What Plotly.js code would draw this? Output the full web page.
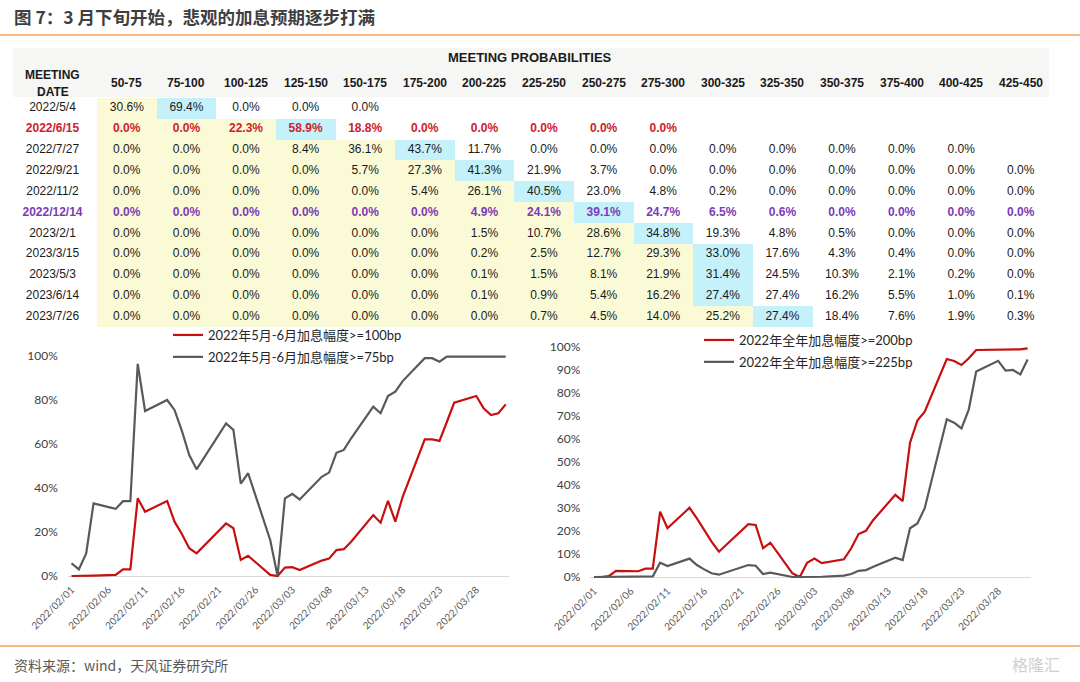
<!DOCTYPE html>
<html><head><meta charset="utf-8">
<script src="https://cdn.plot.ly/plotly-3.0.1.min.js"></script>
<style>html,body{margin:0;padding:0;background:#fff}#chart{width:1080px;height:682px}</style>
</head><body><div id="chart"></div>
<script>
// ---------- table data ----------
const meetingDates = ["2022/5/4","2022/6/15","2022/7/27","2022/9/21","2022/11/2","2022/12/14","2023/2/1","2023/3/15","2023/5/3","2023/6/14","2023/7/26"];
const rateRanges = ["50-75","75-100","100-125","125-150","150-175","175-200","200-225","225-250","250-275","275-300","300-325","325-350","350-375","375-400","400-425","425-450"];
const prob_2022_05_04 = [30.6,69.4,0.0,0.0,0.0];
const prob_2022_06_15 = [0.0,0.0,22.3,58.9,18.8,0.0,0.0,0.0,0.0,0.0];
const prob_2022_07_27 = [0.0,0.0,0.0,8.4,36.1,43.7,11.7,0.0,0.0,0.0,0.0,0.0,0.0,0.0,0.0];
const prob_2022_09_21 = [0.0,0.0,0.0,0.0,5.7,27.3,41.3,21.9,3.7,0.0,0.0,0.0,0.0,0.0,0.0,0.0];
const prob_2022_11_02 = [0.0,0.0,0.0,0.0,0.0,5.4,26.1,40.5,23.0,4.8,0.2,0.0,0.0,0.0,0.0,0.0];
const prob_2022_12_14 = [0.0,0.0,0.0,0.0,0.0,0.0,4.9,24.1,39.1,24.7,6.5,0.6,0.0,0.0,0.0,0.0];
const prob_2023_02_01 = [0.0,0.0,0.0,0.0,0.0,0.0,1.5,10.7,28.6,34.8,19.3,4.8,0.5,0.0,0.0,0.0];
const prob_2023_03_15 = [0.0,0.0,0.0,0.0,0.0,0.0,0.2,2.5,12.7,29.3,33.0,17.6,4.3,0.4,0.0,0.0];
const prob_2023_05_03 = [0.0,0.0,0.0,0.0,0.0,0.0,0.1,1.5,8.1,21.9,31.4,24.5,10.3,2.1,0.2,0.0];
const prob_2023_06_14 = [0.0,0.0,0.0,0.0,0.0,0.0,0.1,0.9,5.4,16.2,27.4,27.4,16.2,5.5,1.0,0.1];
const prob_2023_07_26 = [0.0,0.0,0.0,0.0,0.0,0.0,0.0,0.7,4.5,14.0,25.2,27.4,18.4,7.6,1.9,0.3];
const probabilityRows = [prob_2022_05_04,prob_2022_06_15,prob_2022_07_27,prob_2022_09_21,prob_2022_11_02,prob_2022_12_14,prob_2023_02_01,prob_2023_03_15,prob_2023_05_03,prob_2023_06_14,prob_2023_07_26];
const highlightedMeetings = {"2022/6/15":"#D0202E","2022/12/14":"#7B3DB4"};

// ---------- line chart data (%) ----------
const tradeDates = ["2022-02-01","2022-02-02","2022-02-03","2022-02-04","2022-02-07","2022-02-08","2022-02-09","2022-02-10","2022-02-11","2022-02-14","2022-02-15","2022-02-16","2022-02-17","2022-02-18","2022-02-22","2022-02-23","2022-02-24","2022-02-25","2022-02-28","2022-03-01","2022-03-02","2022-03-03","2022-03-04","2022-03-07","2022-03-08","2022-03-09","2022-03-10","2022-03-11","2022-03-14","2022-03-15","2022-03-16","2022-03-17","2022-03-18","2022-03-21","2022-03-22","2022-03-23","2022-03-24","2022-03-25","2022-03-28","2022-03-29","2022-03-30","2022-03-31","2022-04-01"];
const mayJunHike100bp = [0,0,0.1,0.2,0.5,3.0,3.0,35.3,29.2,34.1,24.7,19.1,12.6,10.3,23.9,21.7,7.3,9.2,0.5,0,3.8,4.0,2.7,7.0,7.9,11.8,12.2,15.6,27.7,24.2,34.2,24.7,36.0,62.1,62.1,61.4,70.0,78.8,81.8,76.2,73.2,74.0,78.0];
const mayJunHike75bp = [5.8,3.0,10.3,33.0,30.5,34.0,34.0,96.4,75.0,80.0,75.5,66.0,55.0,48.5,69.4,66.4,42.0,46.7,16.4,0,35.3,37.3,34.8,45.1,47.0,56.0,57.3,62.6,77.0,74.0,81.8,83.8,88.6,99.0,99.0,97.4,99.7,99.7,99.7,99.7,99.7,99.7,99.7];
const fullYearHike200bp = [0,0,0.4,2.7,2.5,3.6,3.6,28.4,21.2,30.1,25.5,20.4,15.4,11.0,23.0,22.6,12.5,14.9,1.6,0,6.2,8.0,6.0,7.7,12.5,18.7,20.1,24.8,35.7,33.0,58.4,68.0,71.9,94.8,93.9,92.2,95.1,98.7,98.7,99.0,98.8,99.0,99.4];
const fullYearHike225bp = [0,0,0,0,0,0.1,0.3,6.2,4.8,8.0,5.2,3.3,1.6,1.0,5.2,4.9,1.3,1.9,0,0,0,0.3,0.1,0.6,1.3,2.7,3.0,4.5,8.4,7.4,21.2,23.3,29.9,68.6,67.1,64.6,72.9,89.3,94.0,89.7,90.0,88.1,94.6];
const xTickLabels = ["2022/02/01","2022/02/06","2022/02/11","2022/02/16","2022/02/21","2022/02/26","2022/03/03","2022/03/08","2022/03/13","2022/03/18","2022/03/23","2022/03/28"];
const leftYTicks = [0,20,40,60,80,100];
const rightYTicks = [0,10,20,30,40,50,60,70,80,90,100];
const seriesNames = ["2022年5月-6月加息幅度>=100bp","2022年5月-6月加息幅度>=75bp","2022年全年加息幅度>=200bp","2022年全年加息幅度>=225bp"];

// ---------- helpers ----------
const W = 1080, H = 682;
const px = x => x / W, py = y => 1 - y / H;
const RED = '#C80F0F', GREY = '#595959';
const YELLOW = '#FBFAD6', CYAN = '#C4F1FA', WHITE = '#FFFFFF', TXT = '#1A1A1A';
const TABLE_FONT = '"Liberation Sans", Arial, sans-serif';
const CHART_FONT = 'Lato, "Noto Sans CJK SC", sans-serif';

// ---------- table geometry ----------
const nR = meetingDates.length, nC = rateRanges.length;
const tableLeft = 12, dateColW = 85, probColW = 59.6;
const tableRight = tableLeft + dateColW + probColW * nC;
const rowH = 20.85, tableTop = 98;
const dateColX = -0.5 - (dateColW / probColW) / 2 - 2 / probColW;

// cell fills: columns before the most likely range = yellow, most likely = cyan
const fillCodes = probabilityRows.map(row => {
  const peak = row.indexOf(Math.max(...row));
  return rateRanges.map((_, j) => j < peak ? 1 : (j === peak ? 2 : 0));
});
const cellHeat = {
  type: 'heatmap', x: rateRanges.map((_, j) => j), y: meetingDates.map((_, i) => i), z: fillCodes,
  zmin: 0, zmax: 2, colorscale: [[0, WHITE], [0.5, YELLOW], [1, CYAN]], showscale: false,
  xaxis: 'x3', yaxis: 'y3', hoverinfo: 'skip', showlegend: false
};
const tx = [], ty = [], tt = [], tc = [];
meetingDates.forEach((d, i) => {
  const c = highlightedMeetings[d] || TXT;
  const b = s => highlightedMeetings[d] ? '<b>' + s + '</b>' : s;
  tx.push(dateColX); ty.push(i); tt.push(b(d)); tc.push(c);
  probabilityRows[i].forEach((v, j) => { tx.push(j); ty.push(i); tt.push(b(v.toFixed(1) + '%')); tc.push(c); });
});
const cellText = {
  type: 'scatter', mode: 'text', x: tx, y: ty, text: tt, textposition: 'middle center',
  textfont: {family: TABLE_FONT, size: 12, color: tc}, cliponaxis: false,
  xaxis: 'x3', yaxis: 'y3', hoverinfo: 'skip', showlegend: false
};

// ---------- line traces ----------
const mk = (y, name, color, xa, ya, lg, grp) => ({
  type: 'scatter', mode: 'lines', x: tradeDates, y: y, name: name,
  line: {color: color, width: 2.2}, xaxis: xa, yaxis: ya, legend: lg, legendgroup: grp,
  hoverinfo: 'skip'
});
const traces = [
  cellHeat, cellText,
  mk(mayJunHike100bp, seriesNames[0], RED, 'x', 'y', 'legend', 'a'),
  mk(mayJunHike75bp, seriesNames[1], GREY, 'x', 'y', 'legend', 'b'),
  mk(fullYearHike200bp, seriesNames[2], RED, 'x2', 'y2', 'legend2', 'c'),
  mk(fullYearHike225bp, seriesNames[3], GREY, 'x2', 'y2', 'legend2', 'd')
];

const tickVals = xTickLabels.map(s => s.replace(/\//g, '-'));
const xBase = {
  type: 'date', range: ['2022-01-31 12:00', '2022-04-01 12:00'],
  tickmode: 'array', tickvals: tickVals, ticktext: xTickLabels, tickangle: -45,
  tickfont: {family: CHART_FONT, size: 10, color: '#595959'},
  showgrid: false, zeroline: false, showline: false, ticks: '', ticklabelstandoff: 3, fixedrange: true
};
const yBase = {
  range: [-1, 102], tickmode: 'array', showgrid: false, showline: false, ticks: '',
  zeroline: true, zerolinecolor: '#D9D9D9', zerolinewidth: 1,
  tickfont: {family: CHART_FONT, size: 12, color: '#404040'}, ticklabelstandoff: 9, fixedrange: true
};

const annotations = [];
annotations.push({xref: 'paper', yref: 'paper', x: px(12), y: py(17), xanchor: 'left', yanchor: 'middle', showarrow: false,
  text: '<b>图 7：3 月下旬开始，悲观的加息预期逐步打满</b>', font: {family: '"Noto Sans CJK SC", sans-serif', size: 17.5, color: '#3F3F3F'}});
annotations.push({xref: 'paper', yref: 'paper', x: px(12), y: py(665), xanchor: 'left', yanchor: 'middle', showarrow: false,
  text: '资料来源：wind，天风证券研究所', font: {family: '"Noto Sans CJK SC", sans-serif', size: 14, color: '#595959'}});
annotations.push({xref: 'paper', yref: 'paper', x: px(1062), y: py(664), xanchor: 'right', yanchor: 'middle', showarrow: false,
  text: '格隆汇', font: {family: '"Noto Sans CJK SC", sans-serif', size: 16, color: '#D0D0D0'}});
annotations.push({xref: 'paper', yref: 'paper', x: px(530), y: py(57), xanchor: 'center', yanchor: 'middle', showarrow: false,
  text: '<b>MEETING PROBABILITIES</b>', font: {family: TABLE_FONT, size: 13, color: TXT}});
annotations.push({xref: 'paper', yref: 'paper', x: px(tableLeft + dateColW / 2 - 2), y: py(75), xanchor: 'center', yanchor: 'middle', showarrow: false,
  text: '<b>MEETING</b>', font: {family: TABLE_FONT, size: 12, color: TXT}});
annotations.push({xref: 'paper', yref: 'paper', x: px(tableLeft + dateColW / 2 - 2), y: py(92), xanchor: 'center', yanchor: 'middle', showarrow: false,
  text: '<b>DATE</b>', font: {family: TABLE_FONT, size: 12, color: TXT}});
rateRanges.forEach((r, j) => {
  annotations.push({xref: 'paper', yref: 'paper', x: px(tableLeft + dateColW + probColW * (j + 0.5)), y: py(83), xanchor: 'center', yanchor: 'middle', showarrow: false,
    text: '<b>' + r + '</b>', font: {family: TABLE_FONT, size: 12, color: TXT}});
});

const layout = {
  width: W, height: H, margin: {l: 0, r: 0, t: 0, b: 0},
  paper_bgcolor: '#FFFFFF', plot_bgcolor: 'rgba(0,0,0,0)',
  font: {family: CHART_FONT, color: '#404040'},
  showlegend: true,
  xaxis: Object.assign({}, xBase, {domain: [px(67.8), px(509.4)], anchor: 'y'}),
  yaxis: Object.assign({}, yBase, {domain: [py(578.2), py(351.6)], anchor: 'x', tickvals: leftYTicks, ticktext: leftYTicks.map(v => v + '%')}),
  xaxis2: Object.assign({}, xBase, {domain: [px(590.3), px(1031.3)], anchor: 'y2'}),
  yaxis2: Object.assign({}, yBase, {domain: [py(579.3), py(342.4)], anchor: 'x2', tickvals: rightYTicks, ticktext: rightYTicks.map(v => v + '%')}),
  xaxis3: {domain: [px(tableLeft), px(tableRight)], anchor: 'y3', range: [-0.5 - dateColW / probColW, nC - 0.5], visible: false, fixedrange: true},
  yaxis3: {domain: [py(tableTop + rowH * nR), py(tableTop)], anchor: 'x3', range: [nR - 0.5, -0.5], visible: false, fixedrange: true},
  legend: {x: px(168), y: py(320), xanchor: 'left', yanchor: 'top', bgcolor: 'rgba(0,0,0,0)', borderwidth: 0,
    font: {family: CHART_FONT, size: 13, color: '#262626'}, itemwidth: 30, traceorder: 'grouped', tracegroupgap: 2},
  legend2: {x: px(699), y: py(325), xanchor: 'left', yanchor: 'top', bgcolor: 'rgba(0,0,0,0)', borderwidth: 0,
    font: {family: CHART_FONT, size: 13, color: '#262626'}, itemwidth: 30, traceorder: 'grouped', tracegroupgap: 2},
  shapes: [
    {type: 'line', xref: 'paper', yref: 'paper', x0: 0, x1: 1, y0: py(35), y1: py(35), line: {color: '#F5A35B', width: 1.5}},
    {type: 'line', xref: 'paper', yref: 'paper', x0: 0, x1: 1, y0: py(646), y1: py(646), line: {color: '#F5A35B', width: 1.5}},
    {type: 'rect', xref: 'paper', yref: 'paper', x0: px(13), x1: px(1049), y0: py(97), y1: py(48), fillcolor: '#F6F6F4', line: {width: 0}, layer: 'below'}
  ],
  annotations: annotations
};

Plotly.newPlot('chart', traces, layout, {displayModeBar: false, staticPlot: true});
</script>
</body></html>
